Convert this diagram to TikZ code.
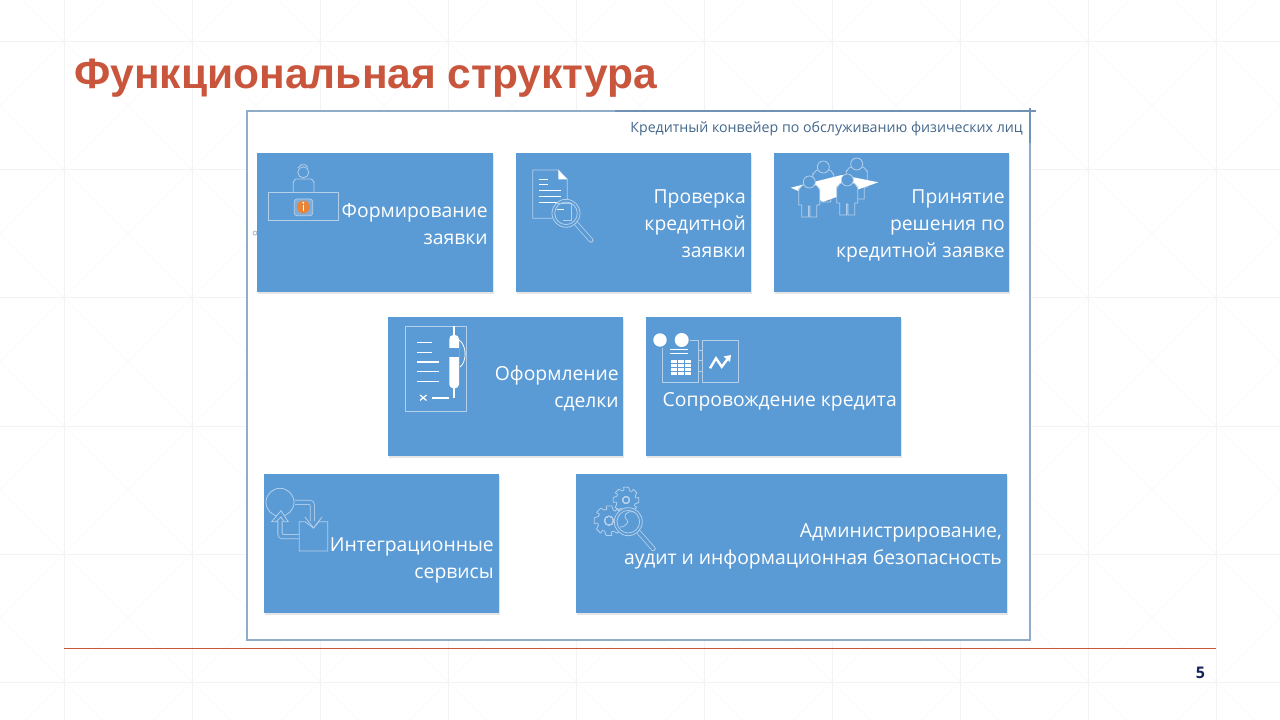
\documentclass[tikz,border=0pt]{standalone}
\usepackage{fontspec}
\usetikzlibrary{shadows}
\setmainfont{Open Sans}
\newfontfamily\titlefont{Liberation Sans}
\definecolor{boxblue}{HTML}{5B9BD5}
\definecolor{iconline}{HTML}{B4CFEA}
\definecolor{framelight}{HTML}{8FADC9}
\definecolor{framedark}{HTML}{6F92B5}
\definecolor{titlered}{HTML}{C9563C}
\definecolor{capblue}{HTML}{44688C}
\definecolor{pagenavy}{HTML}{14245A}
\definecolor{infoorange}{HTML}{E8833A}
\definecolor{gridline}{HTML}{F3F3F3}
\definecolor{gridcross}{HTML}{FBFBFB}
\tikzset{
    func box/.style={fill=boxblue, draw=none, inner sep=0pt, minimum height=104.25pt,
        drop shadow={shadow xshift=0.6pt, shadow yshift=-1.2pt, opacity=0.2}},
    func text/.style={text=white, font=\fontsize{14.5}{20.25}\selectfont, align=right, anchor=east, inner sep=0pt},
    icon/.style={draw=iconline, line width=0.6pt},
    icon white/.style={draw=white, line width=1.1pt},
    pics/person/.style={code={
        \draw[icon, fill=boxblue] (-10.5,20) -- (-10.5,4) to[out=-90,in=180] (-6,0) -- (6,0) to[out=0,in=-90] (10.5,4)
            -- (10.5,20) -- (7.5,20) -- (7.5,32) -- (0.7,32) -- (0.7,21) -- (-0.7,21) -- (-0.7,32) -- (-7.5,32) -- (-7.5,20) -- cycle;
        \draw[icon, fill=boxblue] (0,-3) circle (6);
    }},
    pics/lens/.style={code={
        \draw[icon, double=boxblue, double distance=2.4pt, line cap=round] (10,10) -- (25,27);
        \draw[icon, fill=boxblue] (0,0) circle (14);
        \draw[icon] (0,0) circle (11.3);
    }},
}
\begin{document}
\begin{tikzpicture}[x=0.75pt, y=-0.75pt]
    \useasboundingbox (0,0) rectangle (1280,720);
    % background pattern
    \fill[white] (0,0) rectangle (1280,720);
    \foreach \x in {-64, 64, ..., 1216} \foreach \y in {-86.5, 41.5, ..., 682} {
        \draw[gridcross, line width=0.6pt] (\x,\y) -- ++(128,128);
        \draw[gridcross, line width=0.6pt] (\x,\y) ++(128,0) -- ++(-128,128);
    }
    \foreach \x in {64, 192, ..., 1216} \draw[gridline, line width=0.6pt] (\x,0) -- (\x,720);
    \foreach \y in {41.5, 169.5, 297.5, 426, 554, 682} \draw[gridline, line width=0.6pt] (0,\y) -- (1280,\y);

    \node[anchor=base west, inner sep=0pt, text=titlered, font=\titlefont\bfseries\fontsize{31.9}{38}\selectfont] (title) at (74,89) {Функциональная структура};

    % frame
    \node[draw=framelight, fill=white, line width=1.1pt, inner sep=0pt, minimum width=587pt, minimum height=396.75pt] (frame) at (638.5,375.5) {};
    \draw[framedark, line width=1pt] (615,111) -- (1036,111);
    \draw[framedark, line width=1pt] (1030,108) -- (1030,143);
    \node[draw=framelight, line width=0.5pt, inner sep=0pt, minimum size=3pt, circle] (handle) at (255,233) {};
    \node[anchor=east, inner sep=0pt, text=capblue, font=\fontsize{10.64}{12}\selectfont] (caption) at (1023,128.5) {Кредитный конвейер по обслуживанию физических лиц};

    \foreach \name/\cx/\cy/\w in {formbox/375/222.5/177, checkbox/633.5/222.5/176.25, decidebox/891.5/222.5/176.25,
        dealbox/505.5/386.5/176.25, supportbox/773.5/386.5/191.25, integbox/381.5/543.5/176.25, adminbox/791.5/543.5/323.25}
        \node[func box, minimum width=\w pt] (\name) at (\cx,\cy) {};

    \node[func text] (formtext) at (488,224.5) {Формирование\\заявки};
    \node[func text] (checktext) at (746,224) {Проверка\\кредитной\\заявки};
    \node[func text] (decidetext) at (1005,226) {Принятие\\решения по\\кредитной заявке};
    \node[func text] (dealtext) at (619,388.5) {Оформление\\сделки};
    \node[func text] (supporttext) at (897,402) {Сопровождение кредита};
    \node[func text] (integtext) at (494,560.5) {Интеграционные\\сервисы};
    \node[func text] (admintext) at (1002,546.5) {Администрирование,\\аудит и информационная безопасность};

    % operator at the desk
    \draw[icon] (268.3,192.7) rectangle (338.7,220);
    \draw[icon] (293.3,192.7) -- (293.3,182) to[out=-90,in=180] (296,179) -- (311,179) to[out=0,in=-90] (314,182) -- (314,192.7);
    \draw[icon] (303.3,172.3) circle (5.5);
    \draw[icon] (298,168) arc (200:330:5.5);
    \draw[icon, rounded corners=2pt, fill=boxblue!80!white] (294.3,199) rectangle (312.7,215.7);
    \fill[infoorange] (303.3,207) circle (6.5);
    \draw[white, line width=1.2pt] (303.3,205.5) -- (303.3,211.5);
    \fill[white] (303.3,202.7) circle (1.1);

    % document under the lens
    \draw[icon] (552,218.3) -- (532.7,218.3) -- (532.7,170) -- (558.3,170) -- (567.3,179.3) -- (567.3,200);
    \fill[white] (558.3,170) -- (567.3,179.3) -- (558.3,179.3) -- cycle;
    \foreach \xa/\xb/\y in {539/548/179, 539/548/184.3, 539/561/190.7, 539/561/196.7, 539/561/202}
        \draw[white, line width=0.6pt] (\xa,\y) -- (\xb,\y);
    \pic at (566,213.3) {lens};
    \draw[icon] (556,203.5) -- (571,203.5) -- (571,220) -- (563,220);
    \draw[white, line width=0.7pt] (556.7,209.3) -- (564.3,209.3);

    % people around the table
    \pic at (823.3,170) {person};
    \pic at (856.7,167) {person};
    \fill[white] (790.7,187.7) -- (841.7,175) -- (878.3,182.3) -- (823.3,201.7) -- cycle;
    \pic at (809.3,185) {person};
    \pic at (847.3,183) {person};

    % contract and pen
    \draw[icon] (405,326) rectangle (466.7,411);
    \foreach \xb/\y in {431.7/342.7, 431.7/352.3, 439.3/362, 439.3/371.7, 439.3/381.3}
        \draw[icon white] (417.3,\y) -- (\xb,\y);
    \draw[white, line width=0.9pt] (420,395) -- (426.5,400.5) (426.5,395) -- (420,400.5);
    \draw[icon white] (431.7,398) -- (449.3,398);
    \draw[white, line width=1.6pt] (454.3,326) -- (454.3,398.3);
    \fill[white, rounded corners=3pt] (449.3,335) rectangle (459,388.3);
    \fill[boxblue] (449.3,348.3) rectangle (459,356.7);
    \draw[white, line width=0.6pt] (459,340) .. controls (467,345) and (467,362) .. (460,367);

    % reports and chart
    \draw[icon] (690,340) -- (698.3,340) -- (698.3,382.3) -- (662.7,382.3) -- (662.7,348.3);
    \draw[icon] (702.3,340) rectangle (738,382.3);
    \foreach \y in {350.7, 360.7, 371} \draw[icon] (698.3,\y) -- (702.3,\y);
    \fill[white] (660,340) circle (6.7);
    \fill[white] (681.7,340) circle (7);
    \draw[icon white] (670,349.3) -- (688,349.3) (670,353.3) -- (688,353.3);
    \fill[white] (670.7,360) rectangle (691,375);
    \foreach \y in {363.7, 367.5, 371.3} \draw[boxblue, line width=0.5pt] (670.7,\y) -- (691,\y);
    \foreach \x in {677.5, 684.2} \draw[boxblue, line width=0.5pt] (\x,360) -- (\x,375);
    \draw[white, line width=1.8pt] (710,368.3) -- (716,358.3) -- (721.7,366.7) -- (728,358.5);
    \fill[white] (731,355) -- (723.5,356.5) -- (730,362) -- cycle;

    % exchange arrows
    \draw[icon] (280,502.3) circle (14);
    \draw[icon] (299.3,521.7) -- (299.3,551) -- (327.7,551) -- (327.7,521.7) -- (319,521.7) -- (313.5,528) -- (305,521.7) -- cycle;
    \draw[icon, double=boxblue, double distance=2.6pt, rounded corners=2pt] (295,502.3) -- (312.3,502.3) -- (312.3,521);
    \draw[icon, double=boxblue, double distance=2.6pt, rounded corners=2pt] (299,536.7) -- (280,536.7) -- (280,521);
    \draw[icon, fill=boxblue] (271.7,521.7) -- (281,510.7) -- (288.3,521.7) -- (284,521.7) -- (281,517) -- (276,521.7) -- cycle;
    \draw[icon] (305,517) -- (313.5,528) -- (322,517);

    % gears under the lens
    \foreach \gx/\gy/\ro/\ri/\hole in {626/500/13/10/3.5, 609/520.7/15/11.5/4.5}
        \foreach \a in {0, 45, ..., 315} {
            \draw[icon] ([shift={(\gx,\gy)}]\a-11:\ro) -- ([shift={(\gx,\gy)}]\a+11:\ro) -- ([shift={(\gx,\gy)}]\a+22:\ri) -- ([shift={(\gx,\gy)}]\a+34:\ri);
            \draw[icon] ([shift={(\gx,\gy)}]\a+34:\ri) -- ([shift={(\gx,\gy)}]\a+45-11:\ro);
            \draw[icon] (\gx,\gy) circle (\hole);
        }
    \pic at (628.3,521.7) {lens};
    \draw[icon] (634,512) .. controls (626,510) and (622,517) .. (627,520) .. controls (630,522) and (624,528) .. (620,527);

    % footer
    \draw[titlered, line width=0.7pt] (64,648.5) -- (1216,648.5);
    \node[inner sep=0pt, text=pagenavy, font=\bfseries\fontsize{12}{14}\selectfont] (pagenum) at (1200.5,672.5) {5};
\end{tikzpicture}
\end{document}
